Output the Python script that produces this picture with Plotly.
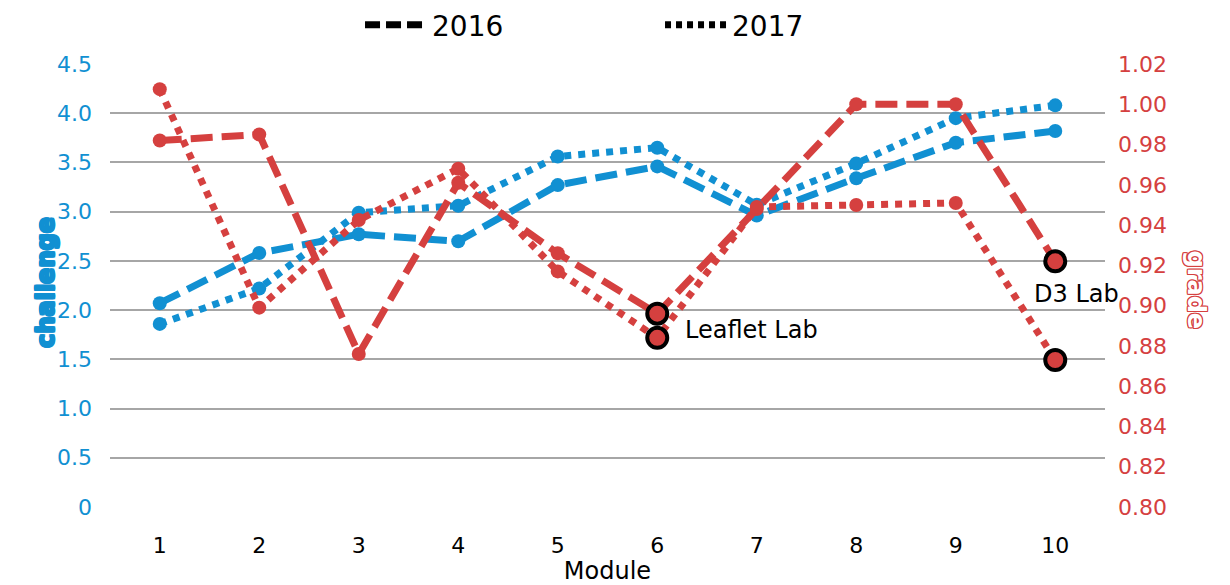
import plotly.graph_objects as go

modules = [1, 2, 3, 4, 5, 6, 7, 8, 9, 10]

challenge_2016 = [2.07, 2.58, 2.77, 2.70, 3.27, 3.46, 2.96, 3.34, 3.70, 3.82]
challenge_2017 = [1.86, 2.22, 2.99, 3.06, 3.56, 3.65, 3.07, 3.49, 3.95, 4.08]
grade_2016 = [0.982, 0.985, 0.876, 0.961, 0.926, 0.896, 0.948, 1.000, 1.000, 0.922]
grade_2017 = [1.0075, 0.899, 0.9425, 0.968, 0.917, 0.884, 0.949, 0.950, 0.951, 0.873]

# labs highlighted with black rings: (module, grade 2016, grade 2017, label)
labs = [(6, 0.896, 0.884, "Leaflet Lab"), (10, 0.922, 0.873, "D3 Lab")]

left_ticks = [0, 0.5, 1.0, 1.5, 2.0, 2.5, 3.0, 3.5, 4.0, 4.5]
left_ticktext = ["0", "0.5", "1.0", "1.5", "2.0", "2.5", "3.0", "3.5", "4.0", "4.5"]

BLUE = "#1190D2"
RED = "#D5403F"
FONT = "DejaVu Sans, sans-serif"
DASH = "22px,9px"
DOT = "7px,7px"


def outline(c):
    return ", ".join(f"{dx}px {dy}px 0 {c}" for dx, dy in
                     [(1, 0), (-1, 0), (0, 1), (0, -1), (1, 1), (-1, -1), (1, -1), (-1, 1)])


fig = go.Figure()

# red (grade) series on secondary axis
fig.add_trace(go.Scatter(x=modules, y=grade_2016, yaxis="y2", mode="lines+markers",
                         line=dict(color=RED, width=7, dash=DASH),
                         marker=dict(size=14, color=RED), showlegend=False))
fig.add_trace(go.Scatter(x=modules, y=grade_2017, yaxis="y2", mode="lines+markers",
                         line=dict(color=RED, width=7, dash=DOT),
                         marker=dict(size=14, color=RED), showlegend=False))

# blue (challenge) series
fig.add_trace(go.Scatter(x=modules, y=challenge_2016, mode="lines+markers",
                         line=dict(color=BLUE, width=7, dash=DASH),
                         marker=dict(size=14, color=BLUE), showlegend=False))
fig.add_trace(go.Scatter(x=modules, y=challenge_2017, mode="lines+markers",
                         line=dict(color=BLUE, width=7, dash=DOT),
                         marker=dict(size=14, color=BLUE), showlegend=False))

# highlighted lab points
ring_x = [m for m, _, _, _ in labs for _ in range(2)]
ring_y = [g for _, g16, g17, _ in labs for g in (g16, g17)]
fig.add_trace(go.Scatter(x=ring_x, y=ring_y, yaxis="y2", mode="markers",
                         marker=dict(size=20, color=RED, line=dict(color="black", width=4)),
                         showlegend=False))

# legend entries (black line styles)
fig.add_trace(go.Scatter(x=[None], y=[None], mode="lines", name="2016",
                         line=dict(color="black", width=7, dash="15px,6px")))
fig.add_trace(go.Scatter(x=[None], y=[None], mode="lines", name="2017",
                         line=dict(color="black", width=7, dash="6px,5px")))

fig.add_annotation(x=labs[0][0], y=labs[0][2], yref="y2", text=labs[0][3],
                   showarrow=False, xanchor="left", xshift=26, yshift=8,
                   font=dict(size=24, color="black", family=FONT))
fig.add_annotation(x=labs[1][0], y=labs[1][1], yref="y2", text=labs[1][3],
                   showarrow=False, xanchor="left", xshift=-23, yshift=-33,
                   font=dict(size=24, color="black", family=FONT))

# axis titles with outlined lettering
fig.add_annotation(x=-0.0804, y=0.506, xref="paper", yref="paper", text="<b>challenge</b>",
                   textangle=-90, showarrow=False,
                   font=dict(size=24, color=BLUE, family=FONT, shadow=outline(BLUE)))
fig.add_annotation(x=1.108, y=0.49, xref="paper", yref="paper", text="<b>grade</b>",
                   textangle=90, showarrow=False,
                   font=dict(size=24, color="white", family=FONT, shadow=outline(RED)))

fig.update_layout(
    width=1230, height=585,
    margin=dict(l=110, r=125, t=64, b=78, autoexpand=False),
    paper_bgcolor="white", plot_bgcolor="white",
    font=dict(family=FONT, size=22, color="black"),
    legend=dict(orientation="h", x=0.2927, xanchor="left", xref="container",
                y=1.0, yanchor="top", yref="container",
                font=dict(size=28, color="black"), entrywidth=223,
                itemwidth=62),
    xaxis=dict(range=[0.5, 10.5], tickvals=modules, ticks="", showgrid=False,
               zeroline=False, showline=False, ticklabelstandoff=23,
               title=dict(text="Module", standoff=8, font=dict(size=24)),
               tickfont=dict(size=22)),
    yaxis=dict(range=[0, 4.5], tickvals=left_ticks, ticktext=left_ticktext,
               showgrid=True, gridcolor="#A6A6A6", gridwidth=2, zeroline=False,
               showline=False, ticks="", ticklabelstandoff=17,
               tickfont=dict(size=22, color=BLUE)),
    yaxis2=dict(range=[0.80, 1.02], dtick=0.02, tickformat=".2f", overlaying="y",
                side="right", showgrid=False, zeroline=False, showline=False,
                ticks="", ticklabelstandoff=12, tickfont=dict(size=22, color=RED)),
)

fig.write_html("out.html", config={"displayModeBar": False},
               post_script="document.body.style.margin='0';")
